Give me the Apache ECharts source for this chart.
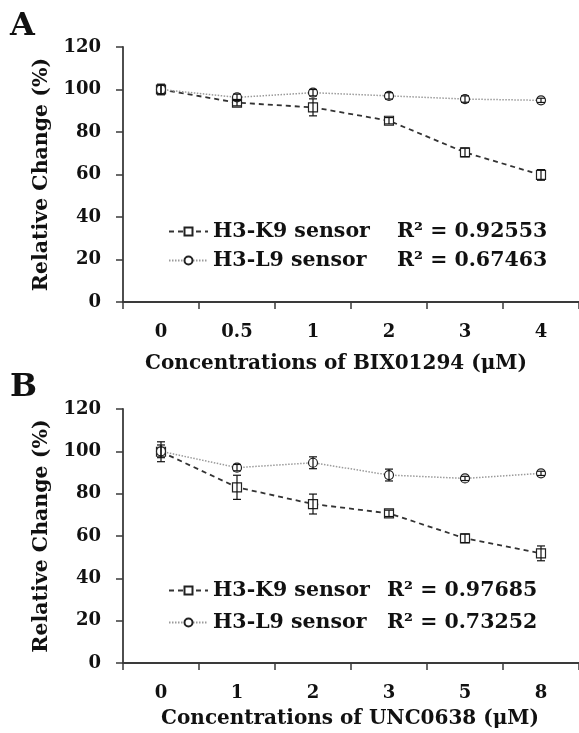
<!DOCTYPE html>
<html>
<head>
<meta charset="utf-8">
<script src="https://cdn.jsdelivr.net/npm/echarts@6/dist/echarts.min.js"></script>
<style>
  html, body { margin: 0; padding: 0; background: #fff; }
  #chart { width: 579px; height: 733px; }
</style>
</head>
<body>
<div id="chart"></div>
<script>
// Panel A: BIX01294
const catsA = ['0', '0.5', '1', '2', '3', '4'];
const k9A = [100, 93.8, 91.6, 85.3, 70.4, 59.8];
const k9ErrA = [2.5, 1.5, 4, 1.5, 2, 2.5];
const l9A = [100, 96.3, 98.5, 97, 95.5, 94.9];
const l9ErrA = [2, 1.5, 1.5, 1.5, 1.5, 1];
const r2A = ['0.92553', '0.67463'];

// Panel B: UNC0638
const catsB = ['0', '1', '2', '3', '5', '8'];
const k9B = [99.8, 83, 75.1, 70.7, 58.9, 51.8];
const k9ErrB = [4.7, 5.7, 4.7, 1.5, 2, 3.5];
const l9B = [100, 92.3, 94.6, 88.8, 87.2, 89.6];
const l9ErrB = [3, 1.5, 2.8, 2.8, 1, 1];
const r2B = ['0.97685', '0.73252'];

const FONT = 'DejaVu Serif';
const AXIS_COLOR = '#3a3a3a';

function errData(vals, errs) {
    return vals.map(function (v, i) { return [i, v - errs[i], v + errs[i]]; });
}

function renderErr(params, api) {
    const x = api.coord([api.value(0), 0])[0];
    const lo = api.coord([api.value(0), api.value(1)])[1];
    const hi = api.coord([api.value(0), api.value(2)])[1];
    const cap = 4;
    const style = { stroke: '#111', lineWidth: 1.2 };
    return {
        type: 'group',
        children: [
            { type: 'line', shape: { x1: x, y1: lo, x2: x, y2: hi }, style: style },
            { type: 'line', shape: { x1: x - cap, y1: lo, x2: x + cap, y2: lo }, style: style },
            { type: 'line', shape: { x1: x - cap, y1: hi, x2: x + cap, y2: hi }, style: style }
        ]
    };
}

function xAxisFor(cats, gridIndex, name, nameGap, namePad) {
    return {
        type: 'category',
        gridIndex: gridIndex,
        data: cats,
        boundaryGap: true,
        name: name,
        nameLocation: 'middle',
        nameGap: nameGap,
        nameTextStyle: { fontFamily: FONT, fontWeight: 'bold', fontSize: 20, color: '#111', padding: namePad },
        axisLine: { lineStyle: { color: AXIS_COLOR, width: 1.8 } },
        axisTick: { show: true, interval: 0, length: 7, alignWithLabel: false, lineStyle: { color: AXIS_COLOR, width: 1.5 } },
        axisLabel: { interval: 0, margin: 21, fontFamily: FONT, fontWeight: 'bold', fontSize: 18, color: '#111' },
        splitLine: { show: false }
    };
}

function yAxisFor(gridIndex, nameGap) {
    return {
        type: 'value',
        gridIndex: gridIndex,
        min: 0,
        max: 120,
        interval: 20,
        name: 'Relative Change (%)',
        nameLocation: 'middle',
        nameGap: nameGap,
        nameTextStyle: { fontFamily: FONT, fontWeight: 'bold', fontSize: 20.5, color: '#111' },
        axisLine: { show: true, lineStyle: { color: AXIS_COLOR, width: 1.8 } },
        axisTick: { show: true, length: 7, lineStyle: { color: AXIS_COLOR, width: 1.5 } },
        axisLabel: { margin: 22, fontFamily: FONT, fontWeight: 'bold', fontSize: 18, color: '#111' },
        splitLine: { show: false }
    };
}

function lineSeries(name, data, idx, isK9) {
    return {
        name: name,
        type: 'line',
        xAxisIndex: idx,
        yAxisIndex: idx,
        data: data,
        symbol: isK9 ? 'rect' : 'circle',
        symbolSize: 9,
        showSymbol: true,
        lineStyle: isK9
            ? { color: '#333', width: 1.8, type: [5, 4] }
            : { color: '#9a9a9a', width: 1.5, type: [1.5, 1.5] },
        itemStyle: { color: '#fff', borderColor: '#222', borderWidth: 1.2 },
        emphasis: { disabled: true },
        animation: false,
        z: 2
    };
}

function errSeries(vals, errs, idx) {
    return {
        type: 'custom',
        xAxisIndex: idx,
        yAxisIndex: idx,
        data: errData(vals, errs),
        renderItem: renderErr,
        silent: true,
        animation: false,
        z: 3
    };
}

function legendFor(top, gap, textWidth, r2) {
    return {
        left: 168,
        top: top,
        padding: 0,
        orient: 'vertical',
        itemGap: gap,
        itemWidth: 39,
        itemHeight: 10,
        selectedMode: false,
        data: ['H3-K9 sensor', 'H3-L9 sensor'],
        formatter: function (name) {
            const r = name === 'H3-K9 sensor' ? r2[0] : r2[1];
            return '{a|' + name + '}{b|R² = ' + r + '}';
        },
        textStyle: {
            rich: {
                a: { width: textWidth, fontFamily: FONT, fontWeight: 'bold', fontSize: 20.5, color: '#111', lineHeight: 22 },
                b: { fontFamily: FONT, fontWeight: 'bold', fontSize: 20.5, color: '#111', lineHeight: 22 }
            }
        }
    };
}

const chart = echarts.init(document.getElementById('chart'), null, { renderer: 'canvas' });

const option = {
    backgroundColor: '#fff',
    animation: false,
    grid: [
        { left: 123, right: 0, top: 47, height: 255, containLabel: false },
        { left: 123, right: 0, top: 409, height: 254, containLabel: false }
    ],
    xAxis: [
        xAxisFor(catsA, 0, 'Concentrations of BIX01294 (μM)', 52, [0, 30, 0, 0]),
        xAxisFor(catsB, 1, 'Concentrations of UNC0638 (μM)', 46, [0, 2, 0, 0])
    ],
    yAxis: [yAxisFor(0, 67), yAxisFor(1, 63)],
    legend: [
        legendFor(221, 8, 184, r2A),
        legendFor(580, 11, 174, r2B)
    ],
    series: [
        lineSeries('H3-K9 sensor', k9A, 0, true),
        lineSeries('H3-L9 sensor', l9A, 0, false),
        errSeries(k9A, k9ErrA, 0),
        errSeries(l9A, l9ErrA, 0),
        lineSeries('H3-K9 sensor', k9B, 1, true),
        lineSeries('H3-L9 sensor', l9B, 1, false),
        errSeries(k9B, k9ErrB, 1),
        errSeries(l9B, l9ErrB, 1)
    ],
    graphic: [
        { type: 'text', left: 10, top: 11, style: { text: 'A', fontFamily: FONT, fontWeight: 'bold', fontSize: 32, fill: '#111' } },
        { type: 'text', left: 10, top: 372, style: { text: 'B', fontFamily: FONT, fontWeight: 'bold', fontSize: 32, fill: '#111' } }
    ]
};

chart.setOption(option);
</script>
</body>
</html>
